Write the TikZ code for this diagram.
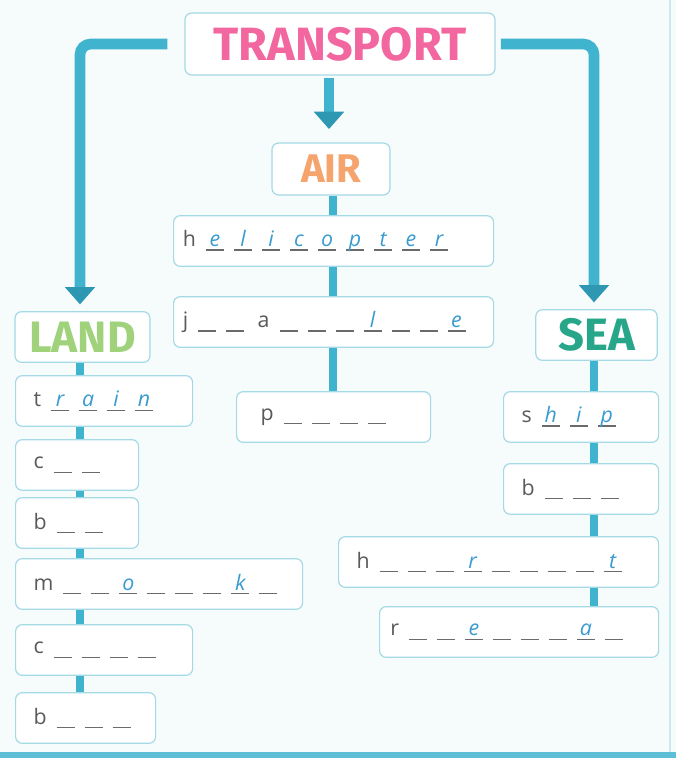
\documentclass[tikz,border=0pt]{standalone}
\usepackage{fontspec}
\setmainfont{Open Sans}
\newfontfamily\headfont{Fira Sans}
\usetikzlibrary{arrows.meta,backgrounds}

\definecolor{bgcol}{HTML}{F6FBFC}
\definecolor{barcol}{HTML}{40B4CF}
\definecolor{tipcol}{HTML}{2E98B2}
\definecolor{boxline}{HTML}{A3DAE6}
\definecolor{textcol}{HTML}{5A5A5A}
\definecolor{rulecol}{HTML}{6A6A6A}
\definecolor{answer}{HTML}{3B9BD0}
\definecolor{transcol}{HTML}{F2679F}
\definecolor{aircol}{HTML}{F5A46E}
\definecolor{landcol}{HTML}{9FD27A}
\definecolor{seacol}{HTML}{28A68A}

% one letter slot, optional letter already filled in
\newcommand\wgap[1][]{\hspace{7.5pt}\rlap{\color{rulecol}\rule[-3pt]{13.5pt}{0.8pt}}\makebox[13.5pt]{\color{answer}\itshape #1}}

\tikzset{
  box/.style={draw=boxline, line width=0.9pt, rounded corners=5pt, fill=white,
    minimum height=38pt, inner xsep=13.5pt},
  word/.style={box, anchor=west, text width=#1, align=left, text=textcol,
    font=\fontsize{16}{18}\selectfont},
  head/.style={box, inner xsep=3pt, font=\headfont\bfseries\fontsize{#1}{#1}\selectfont},
  bar/.style={draw=barcol, line width=8pt},
  colbar/.style={draw=barcol, line width=6.5pt},
  tip/.style={-{Triangle[width=22pt,length=13pt,color=tipcol]}},
}

\begin{document}
\begin{tikzpicture}[x=0.75pt,y=-0.75pt]
  \useasboundingbox (0,0) rectangle (676,758);

  \coordinate (lcol) at (80,0);
  \coordinate (mcol) at (329,0);
  \coordinate (acol) at (333,0);
  \coordinate (rcol) at (594,0);

  \node[head=35, text=transcol, minimum width=232.5pt, minimum height=46.5pt] (transport) at (340,44) {TRANSPORT};
  \node[head=30, text=aircol, minimum width=88.5pt, minimum height=39pt] (air) at (331,169) {AIR};
  \node[head=33, text=landcol, minimum width=101.25pt] (land) at (82.5,337) {LAND};
  \node[head=34, text=seacol, minimum width=91pt] (sea) at (596.5,335) {SEA};

  \node[word=226pt, inner xsep=7pt] (helicopter) at (173,241) {h\wgap[e]\wgap[l]\wgap[i]\wgap[c]\wgap[o]\wgap[p]\wgap[t]\wgap[e]\wgap[r]};
  \node[word=226pt, inner xsep=7pt] (jetplane) at (173,322) {j\wgap\wgap\hspace{10pt}a\wgap\wgap\wgap\wgap[l]\wgap\wgap\wgap[e]};
  \node[word=109.5pt, inner xsep=18pt] (plane) at (236,417) {p\wgap\wgap\wgap\wgap};

  \node[word=105.75pt] (train) at (15,401) {t\wgap[r]\wgap[a]\wgap[i]\wgap[n]};
  \node[word=65.25pt] (car) at (15,465) {c\wgap\wgap};
  \node[word=65.25pt] (bus) at (15,523) {b\wgap\wgap};
  \node[word=188.25pt] (motorbike) at (15,584) {m\wgap\wgap\wgap[o]\wgap\wgap\wgap\wgap[k]\wgap};
  \node[word=105.75pt] (coach) at (15,650) {c\wgap\wgap\wgap\wgap};
  \node[word=78pt] (bike) at (15,718) {b\wgap\wgap\wgap};

  \node[word=89.25pt] (ship) at (503,417) {s\wgap[h]\wgap[i]\wgap[p]};
  \node[word=89.25pt] (boat) at (503,489) {b\wgap\wgap\wgap};
  \node[word=213pt] (hovercraft) at (338,562) {h\wgap\wgap\wgap\wgap[r]\wgap\wgap\wgap\wgap\wgap[t]};
  \node[word=193.25pt, inner xsep=8pt] (riverboat) at (379,632) {r\wgap\wgap\wgap[e]\wgap\wgap\wgap\wgap[a]\wgap};

  \begin{scope}[on background layer]
    \fill[bgcol] (0,0) rectangle (676,758);
    \draw[boxline!60, line width=0.8pt] (670,0) -- (670,752);
    \fill[barcol!85] (0,752) rectangle (676,758);
    \draw[colbar] (lcol |- land.south) -- (lcol |- bike.north);
    \draw[colbar] (acol |- air.south) -- (acol |- plane.north);
    \draw[colbar] (rcol |- sea.south) -- (rcol |- riverboat.north);
  \end{scope}

  \draw[bar, tip, rounded corners=8pt, shorten <=12.75pt, shorten >=5pt] (transport.west) -| (lcol |- land.north);
  \draw[bar, tip, rounded corners=8pt, shorten <=4pt, shorten >=5pt] (transport.east) -| (rcol |- sea.north);
  \draw[bar, tip, shorten <=2pt, shorten >=10pt] (mcol |- transport.south) -- (mcol |- air.north);
\end{tikzpicture}
\end{document}
